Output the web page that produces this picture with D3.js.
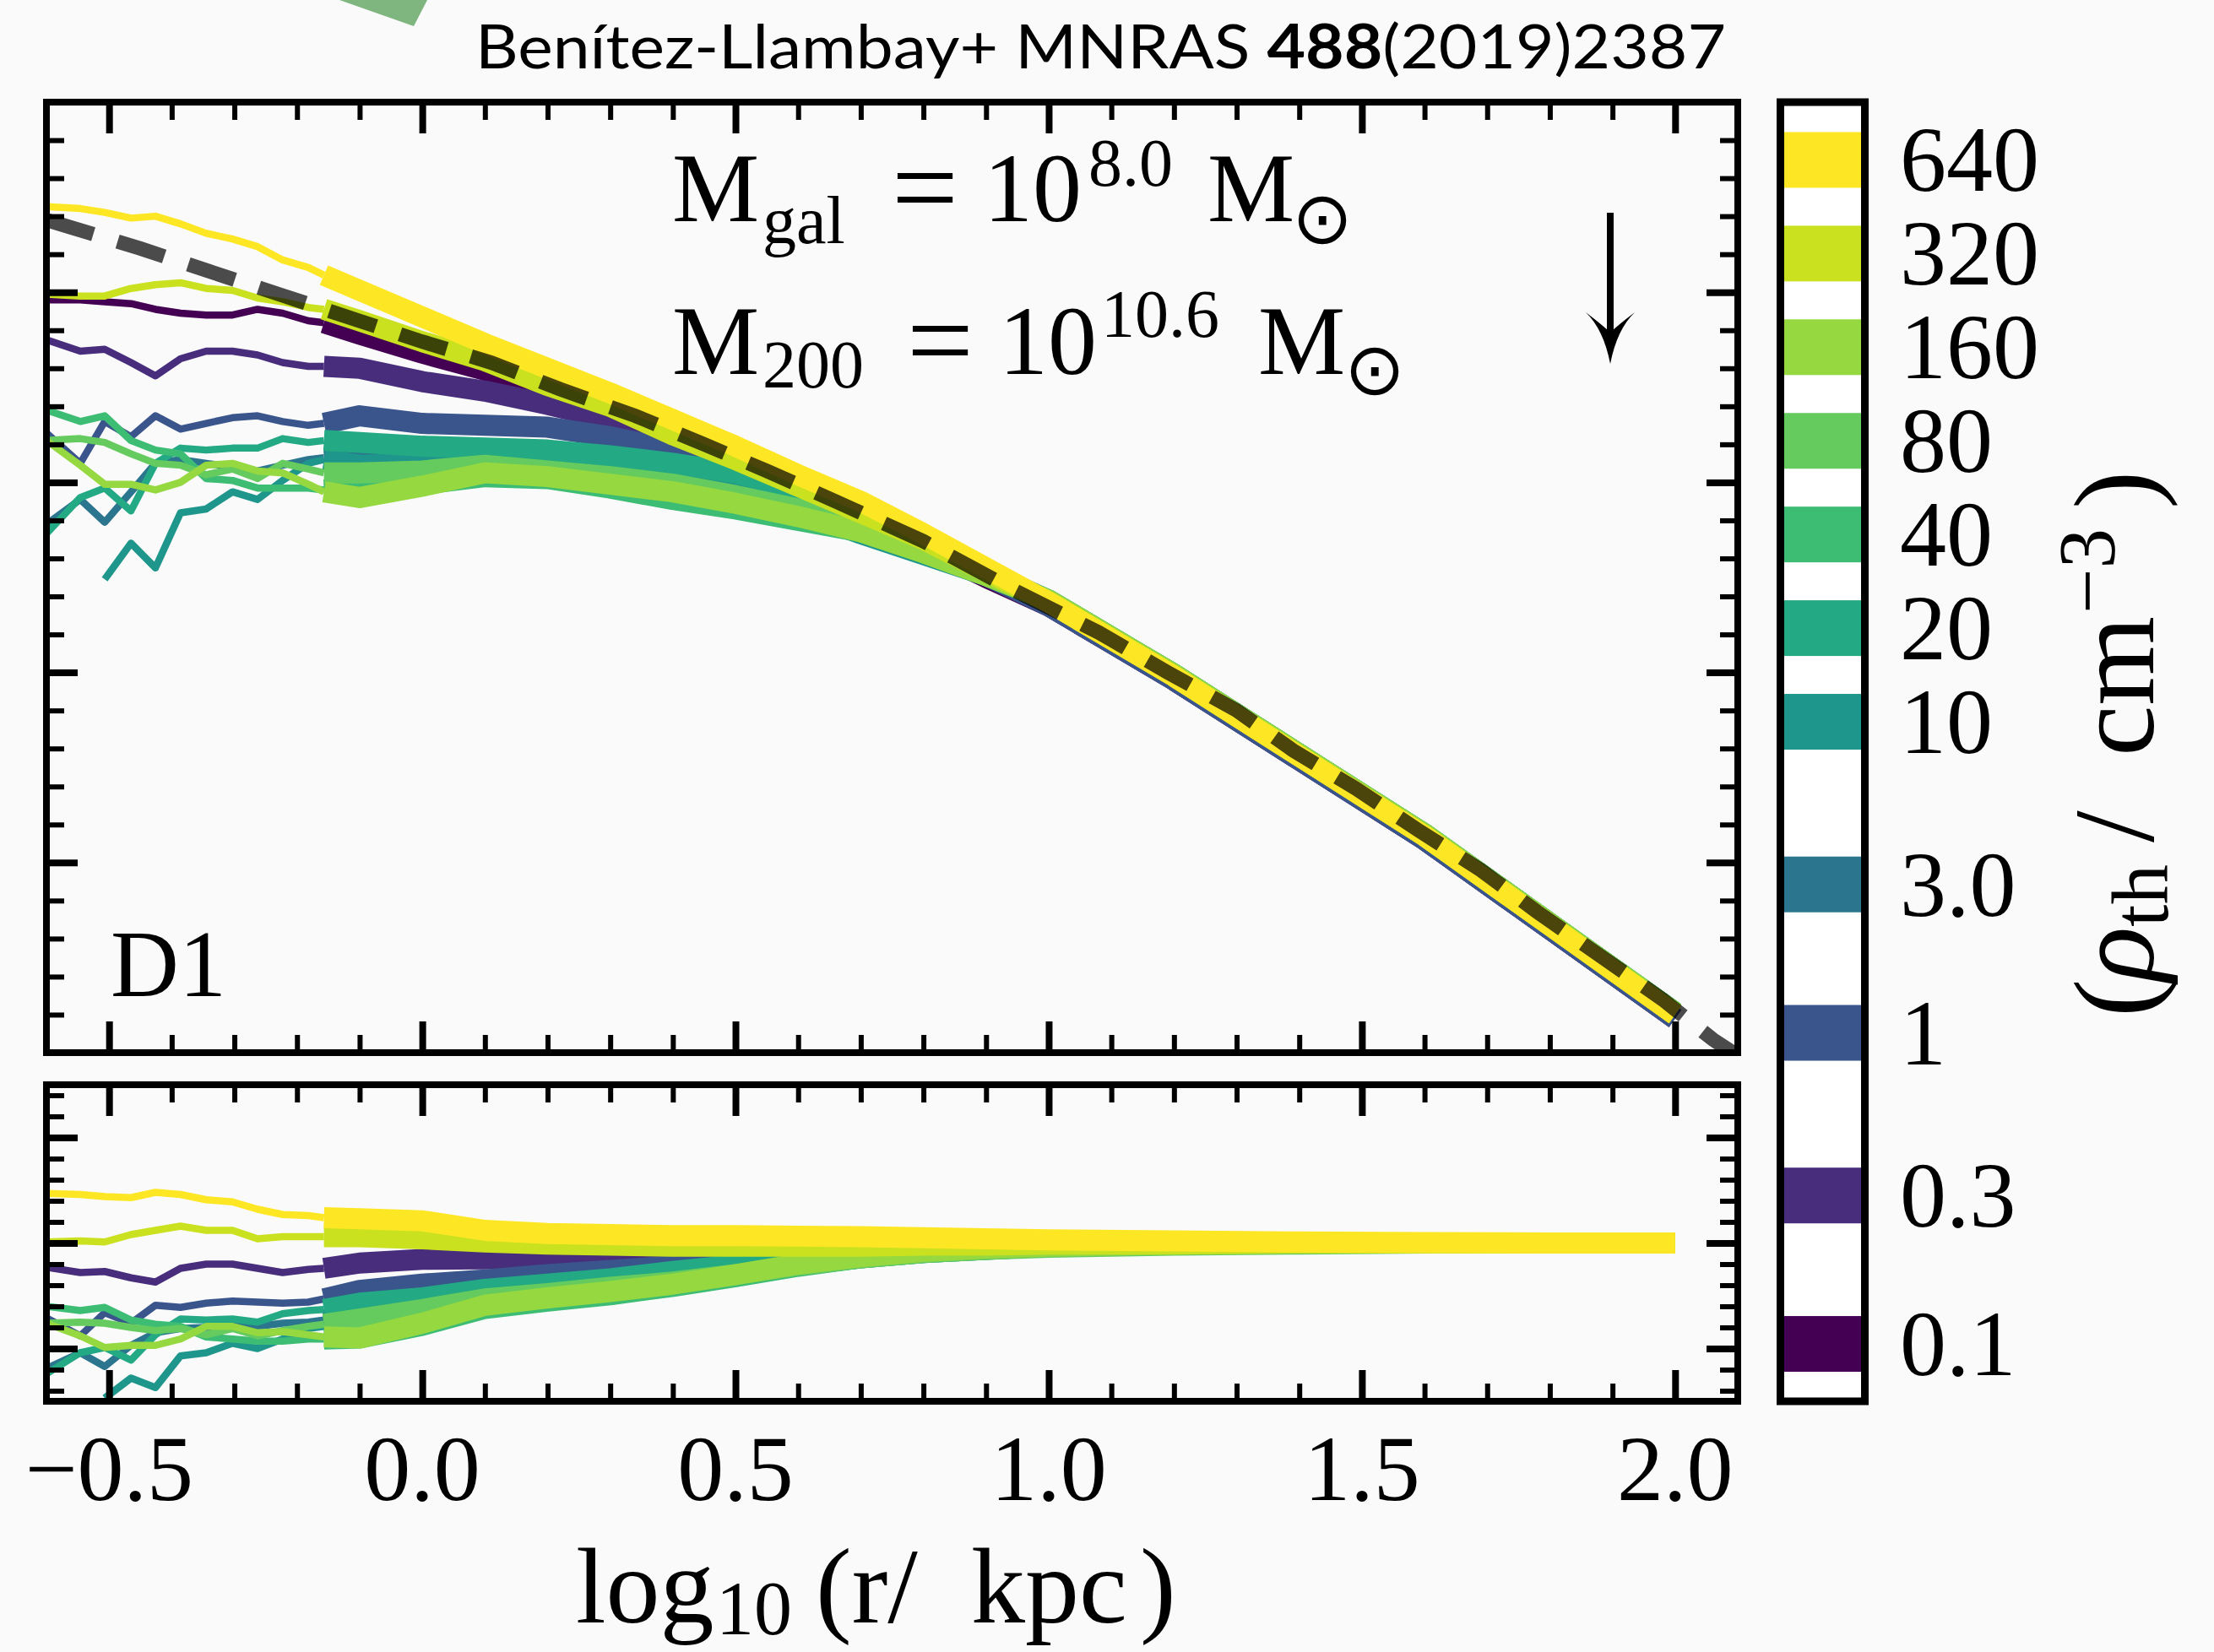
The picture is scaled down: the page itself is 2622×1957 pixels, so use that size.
<!DOCTYPE html>
<html><head><meta charset="utf-8">
<script src="https://cdn.jsdelivr.net/npm/d3@7"></script>
<style>html,body{margin:0;padding:0;background:#fafafa;}svg{display:block;}</style>
</head><body>
<svg id="chart" width="2622" height="1957"></svg>
<script>
// ---------------- DATA ----------------
const densities = [0.1, 0.3, 1, 3, 10, 20, 40, 80, 160, 320, 640];
const densityLabels = ["0.1", "0.3", "1", "3.0", "10", "20", "40", "80", "160", "320", "640"];

// x grids: log10(r/kpc)
const xThin = [-0.60, -0.546, -0.507, -0.465, -0.426, -0.386, -0.345, -0.303, -0.263, -0.223, -0.182, -0.157];
const xThick = [-0.157, -0.1, 0.0, 0.1, 0.2, 0.3, 0.4, 0.5, 0.6, 0.7, 0.8, 0.9, 1.0, 1.2, 1.4, 1.6, 1.8, 2.0];

// main panel, thin (inner) parts
const mainThin_0p1 = [-1.04, -1.04, -1.05, -1.06, -1.09, -1.11, -1.12, -1.12, -1.09, -1.11, -1.15, -1.16];
const mainThin_0p3 = [-1.25, -1.31, -1.30, -1.37, -1.44, -1.35, -1.31, -1.31, -1.33, -1.37, -1.39, -1.39];
const mainThin_1 = [-1.74, -1.90, -1.68, -1.76, -1.65, -1.72, -1.69, -1.66, -1.65, -1.68, -1.70, -1.69];
const mainThin_3 = [-2.22, -2.09, -2.21, -2.05, -1.90, -1.88, -1.90, -1.92, -1.94, -1.91, -1.88, -1.87];
const mainThin_10 = [null, null, -2.51, -2.32, -2.45, -2.16, -2.14, -2.05, -2.09, -1.99, -1.90, -1.88];
const mainThin_20 = [-2.27, -2.08, -2.03, -2.15, -1.90, -1.82, -1.83, -1.82, -1.82, -1.77, -1.79, -1.78];
const mainThin_40 = [-1.62, -1.68, -1.65, -1.78, -1.83, -1.85, -1.98, -1.99, -2.03, -2.03, -2.03, -2.04];
const mainThin_80 = [-1.78, -1.77, -1.79, -1.85, -1.90, -1.91, -1.96, -1.93, -1.98, -1.90, -1.93, -1.95];
const mainThin_160 = [-1.78, -1.91, -2.01, -2.01, -2.04, -2.00, -1.91, -1.90, -1.94, -1.95, -2.01, -2.05];
const mainThin_320 = [-1.01, -1.02, -1.02, -0.98, -0.96, -0.95, -0.98, -0.99, -1.03, -1.05, -1.08, -1.09];
const mainThin_640 = [-0.55, -0.56, -0.58, -0.61, -0.60, -0.64, -0.69, -0.72, -0.76, -0.83, -0.87, -0.91];

// main panel, thick (resolved) parts
const mainThick_0p1 = [-1.16, -1.22, -1.32, -1.41, -1.52, -1.64, -1.78, -1.92, -2.06, -2.20, -2.34, -2.50, -2.65, -3.04, -3.46, -3.88, -4.35, -4.82];
const mainThick_0p3 = [-1.39, -1.40, -1.47, -1.52, -1.59, -1.67, -1.76, -1.88, -2.02, -2.17, -2.33, -2.49, -2.65, -3.04, -3.46, -3.88, -4.35, -4.82];
const mainThick_1 = [-1.69, -1.65, -1.69, -1.70, -1.71, -1.76, -1.83, -1.91, -2.03, -2.17, -2.33, -2.49, -2.65, -3.04, -3.46, -3.88, -4.35, -4.82];
const mainThick_3 = [-1.87, -1.86, -1.86, -1.86, -1.88, -1.92, -1.96, -2.02, -2.10, -2.18, -2.31, -2.47, -2.62, -3.01, -3.43, -3.85, -4.32, -4.79];
const mainThick_10 = [-1.88, -1.91, -1.90, -1.90, -1.92, -1.96, -2.00, -2.05, -2.15, -2.27, -2.38, -2.49, -2.62, -3.01, -3.43, -3.85, -4.32, -4.79];
const mainThick_20 = [-1.78, -1.79, -1.81, -1.82, -1.83, -1.86, -1.90, -1.95, -2.04, -2.15, -2.31, -2.48, -2.62, -3.01, -3.43, -3.85, -4.32, -4.79];
const mainThick_40 = [-2.04, -2.03, -2.01, -1.97, -1.98, -2.03, -2.09, -2.14, -2.20, -2.26, -2.37, -2.49, -2.62, -3.01, -3.43, -3.85, -4.32, -4.79];
const mainThick_80 = [-1.95, -1.95, -1.94, -1.91, -1.94, -1.97, -2.01, -2.07, -2.14, -2.20, -2.33, -2.48, -2.62, -3.01, -3.43, -3.85, -4.32, -4.79];
const mainThick_160 = [-2.05, -2.08, -2.02, -1.95, -1.97, -2.01, -2.05, -2.11, -2.18, -2.26, -2.37, -2.49, -2.62, -3.01, -3.43, -3.85, -4.32, -4.79];
const mainThick_320 = [-1.09, -1.15, -1.26, -1.36, -1.49, -1.60, -1.75, -1.88, -2.02, -2.16, -2.30, -2.47, -2.63, -3.02, -3.44, -3.86, -4.33, -4.80];
const mainThick_640 = [-0.91, -0.99, -1.13, -1.27, -1.40, -1.53, -1.67, -1.81, -1.96, -2.10, -2.27, -2.45, -2.63, -3.02, -3.44, -3.86, -4.33, -4.80];

// reference (dashed) profile
const refX = [-0.60, -0.56, -0.45, -0.34, -0.22, -0.11, 0.00, 0.11, 0.22, 0.34, 0.45, 0.55, 0.66, 0.80, 0.94, 1.08, 1.19, 1.30, 1.39, 1.49, 1.59, 1.69, 1.78, 1.88, 1.98, 2.06, 2.12];
const refY = [-0.62, -0.66, -0.77, -0.89, -1.02, -1.14, -1.26, -1.37, -1.51, -1.65, -1.80, -1.94, -2.10, -2.31, -2.56, -2.79, -3.00, -3.20, -3.41, -3.61, -3.83, -4.04, -4.26, -4.49, -4.72, -4.93, -5.06];

// ratio panel, thin parts (0.1 run not shown)
const ratioThin_0p3 = [-0.23, -0.28, -0.27, -0.33, -0.37, -0.24, -0.20, -0.20, -0.24, -0.28, -0.25, -0.24];
const ratioThin_1 = [-0.71, -0.88, -0.66, -0.76, -0.59, -0.61, -0.57, -0.55, -0.56, -0.57, -0.56, -0.53];
const ratioThin_3 = [-1.19, -1.04, -1.17, -0.97, -0.85, -0.81, -0.80, -0.79, -0.79, -0.76, -0.75, -0.73];
const ratioThin_10 = [null, null, -1.47, -1.28, -1.37, -1.07, -1.04, -0.95, -1.00, -0.91, -0.81, -0.79];
const ratioThin_20 = [-1.24, -1.04, -0.99, -1.11, -0.87, -0.72, -0.73, -0.72, -0.75, -0.67, -0.64, -0.63];
const ratioThin_40 = [-0.60, -0.64, -0.61, -0.73, -0.77, -0.79, -0.89, -0.91, -0.93, -0.93, -0.91, -0.91];
const ratioThin_80 = [-0.76, -0.75, -0.76, -0.80, -0.83, -0.81, -0.87, -0.81, -0.88, -0.83, -0.79, -0.77];
const ratioThin_160 = [-0.76, -0.88, -0.99, -0.97, -0.97, -0.91, -0.79, -0.79, -0.85, -0.84, -0.87, -0.89];
const ratioThin_320 = [0.01, 0.02, 0.01, 0.08, 0.12, 0.16, 0.12, 0.12, 0.04, 0.06, 0.06, 0.06];
const ratioThin_640 = [0.47, 0.46, 0.44, 0.43, 0.48, 0.46, 0.41, 0.39, 0.32, 0.27, 0.26, 0.24];

// ratio panel, thick parts
const ratioThick_0p3 = [-0.24, -0.19, -0.155, -0.15, -0.14, -0.13, -0.11, -0.09, -0.07, -0.05, -0.04, -0.03, -0.02, -0.01, 0.0, 0.0, 0.0, 0.0];
const ratioThick_1 = [-0.53, -0.45, -0.39, -0.35, -0.30, -0.26, -0.22, -0.15, -0.10, -0.07, -0.05, -0.035, -0.02, -0.01, 0.0, 0.0, 0.0, 0.0];
const ratioThick_3 = [-0.73, -0.66, -0.58, -0.50, -0.44, -0.38, -0.31, -0.23, -0.16, -0.11, -0.07, -0.05, -0.03, -0.01, 0.0, 0.0, 0.0, 0.0];
const ratioThick_10 = [-0.79, -0.75, -0.68, -0.60, -0.53, -0.46, -0.39, -0.31, -0.21, -0.14, -0.09, -0.06, -0.03, -0.01, 0.0, 0.0, 0.0, 0.0];
const ratioThick_20 = [-0.63, -0.57, -0.52, -0.44, -0.39, -0.34, -0.27, -0.21, -0.15, -0.10, -0.07, -0.05, -0.03, -0.01, 0.0, 0.0, 0.0, 0.0];
const ratioThick_40 = [-0.91, -0.90, -0.78, -0.62, -0.55, -0.49, -0.41, -0.32, -0.22, -0.14, -0.09, -0.06, -0.03, -0.01, 0.0, 0.0, 0.0, 0.0];
const ratioThick_80 = [-0.77, -0.72, -0.63, -0.53, -0.48, -0.42, -0.37, -0.30, -0.21, -0.14, -0.09, -0.06, -0.04, -0.02, -0.01, 0.0, 0.0, 0.0];
const ratioThick_160 = [-0.89, -0.90, -0.76, -0.59, -0.52, -0.46, -0.39, -0.30, -0.20, -0.13, -0.08, -0.05, -0.03, -0.01, 0.0, 0.0, 0.0, 0.0];
const ratioThick_320 = [0.06, 0.06, 0.04, 0.01, -0.01, -0.02, -0.03, -0.03, -0.03, -0.03, -0.02, -0.02, -0.01, -0.01, 0.0, 0.0, 0.0, 0.0];
const ratioThick_640 = [0.24, 0.23, 0.21, 0.12, 0.09, 0.08, 0.07, 0.07, 0.065, 0.06, 0.05, 0.04, 0.03, 0.02, 0.01, 0.005, 0.0, 0.0];

// ticks
const xMajorTicks = [-0.5, 0, 0.5, 1, 1.5, 2];
const xTickLabels = ["\u22120.5", "0.0", "0.5", "1.0", "1.5", "2.0"];
const yMainMajorTicks = [-4, -3, -2, -1];
const yRatioMajorTicks = [-1, 0, 1];

// ---------------- SERIES TABLE ----------------
const mainThinAll = [mainThin_0p1, mainThin_0p3, mainThin_1, mainThin_3, mainThin_10, mainThin_20, mainThin_40, mainThin_80, mainThin_160, mainThin_320, mainThin_640];
const mainThickAll = [mainThick_0p1, mainThick_0p3, mainThick_1, mainThick_3, mainThick_10, mainThick_20, mainThick_40, mainThick_80, mainThick_160, mainThick_320, mainThick_640];
const ratioThinAll = [null, ratioThin_0p3, ratioThin_1, ratioThin_3, ratioThin_10, ratioThin_20, ratioThin_40, ratioThin_80, ratioThin_160, ratioThin_320, ratioThin_640];
const ratioThickAll = [null, ratioThick_0p3, ratioThick_1, ratioThick_3, ratioThick_10, ratioThick_20, ratioThick_40, ratioThick_80, ratioThick_160, ratioThick_320, ratioThick_640];

// ---------------- LAYOUT ----------------
const W = 2622, H = 1957;
const L = 55, R = 2058, T1 = 121, B1 = 1247, T2 = 1285, B2 = 1660;
const CBL = 2108.5, CBR = 2208.5;
const SERIF = "'Liberation Serif','DejaVu Serif',serif";

const x = d3.scaleLinear().domain([-0.6, 2.1]).range([L, R]);
const yMain = d3.scaleLinear().domain([-5, 0]).range([B1, T1]);
const yRatio = d3.scaleLinear().domain([-1.5, 1.5]).range([B2, T2]);
const color = d3.scaleSequentialLog(d3.interpolateViridis).domain([0.1, 640]);
const cb = d3.scaleLog().domain([0.0654, 981.5]).range([B2, T1]);

const svg = d3.select("#chart");
svg.append("rect").attr("width", W).attr("height", H).attr("fill", "#fafafa");

// decorative green fragment at top-left (part of cropped logo)
svg.append("path").attr("d", "M402,0 L506,0 L490,31 Z").attr("fill", "#7fb57f");

const defs = svg.append("defs");
defs.append("clipPath").attr("id", "clipMain").append("rect").attr("x", L).attr("y", T1).attr("width", R - L).attr("height", B1 - T1);
defs.append("clipPath").attr("id", "clipRatio").append("rect").attr("x", L).attr("y", T2).attr("width", R - L).attr("height", B2 - T2);

const THIN = 8.5, THICK = 25;

function drawSeries(g, ys, xs, vals, c, w) {
  const pts = xs.map((xv, i) => [xv, vals[i]]);
  const line = d3.line().defined(d => d[1] !== null).x(d => x(d[0])).y(d => ys(d[1]));
  g.append("path").attr("d", line(pts)).attr("fill", "none").attr("stroke", c)
    .attr("stroke-width", w).attr("stroke-linejoin", "round").attr("stroke-linecap", "butt");
}

const gMain = svg.append("g").attr("clip-path", "url(#clipMain)");
const gRatio = svg.append("g").attr("clip-path", "url(#clipRatio)");

densities.forEach((d, i) => {
  const c = color(d);
  drawSeries(gMain, yMain, xThin, mainThinAll[i], c, THIN);
  drawSeries(gMain, yMain, xThick, mainThickAll[i], c, THICK);
  if (ratioThinAll[i]) {
    drawSeries(gRatio, yRatio, xThin, ratioThinAll[i], c, THIN);
    drawSeries(gRatio, yRatio, xThick, ratioThickAll[i], c, THICK);
  }
});

// dashed reference profile
gMain.append("path")
  .attr("d", d3.line().x((d, i) => x(refX[i])).y((d, i) => yMain(refY[i]))(refX))
  .attr("fill", "none").attr("stroke", "#000").attr("stroke-opacity", 0.7)
  .attr("stroke-width", 17).attr("stroke-dasharray", "58,30").attr("stroke-linecap", "butt");

// ---------------- AXES / TICKS ----------------
function range01(a, b, step) {
  const out = [];
  for (let v = a; v <= b + 1e-9; v += step) out.push(Math.round(v * 10) / 10);
  return out;
}
const xMinorTicks = range01(-0.5, 2.0, 0.1).filter(v => !xMajorTicks.some(m => Math.abs(m - v) < 1e-6));
const yMainMinorTicks = range01(-4.8, -0.2, 0.2).filter(v => Math.abs(v - Math.round(v)) > 1e-6);
const yRatioMinorTicks = range01(-1.4, 1.4, 0.2).filter(v => Math.abs(v - Math.round(v)) > 1e-6);

function tickAxis(gen, tr, vals, len, w) {
  const g = svg.append("g").attr("transform", tr);
  g.call(gen.tickValues(vals).tickSize(-len).tickFormat(""));
  g.select(".domain").remove();
  g.selectAll(".tick line").attr("stroke", "#000").attr("stroke-width", w);
  return g;
}
const MAJ = 37, MIN = 21, MAJW = 8, MINW = 6;
[[yMain, T1, B1, yMainMajorTicks, yMainMinorTicks], [yRatio, T2, B2, yRatioMajorTicks, yRatioMinorTicks]].forEach(([ys, t, b, maj, mn]) => {
  tickAxis(d3.axisBottom(x), `translate(0,${b})`, xMajorTicks, MAJ, MAJW);
  tickAxis(d3.axisBottom(x), `translate(0,${b})`, xMinorTicks, MIN, MINW);
  tickAxis(d3.axisTop(x), `translate(0,${t})`, xMajorTicks, MAJ, MAJW);
  tickAxis(d3.axisTop(x), `translate(0,${t})`, xMinorTicks, MIN, MINW);
  tickAxis(d3.axisLeft(ys), `translate(${L},0)`, maj, MAJ, MAJW);
  tickAxis(d3.axisLeft(ys), `translate(${L},0)`, mn, MIN, MINW);
  tickAxis(d3.axisRight(ys), `translate(${R},0)`, maj, MAJ, MAJW);
  tickAxis(d3.axisRight(ys), `translate(${R},0)`, mn, MIN, MINW);
  svg.append("rect").attr("x", L).attr("y", t).attr("width", R - L).attr("height", b - t)
    .attr("fill", "none").attr("stroke", "#000").attr("stroke-width", 8);
});

// x tick labels
svg.append("g").selectAll("text").data(xMajorTicks).join("text")
  .attr("x", d => x(d)).attr("y", 1777).attr("text-anchor", "middle")
  .attr("font-family", SERIF).attr("font-size", 110).attr("fill", "#000")
  .text((d, i) => xTickLabels[i]);

// x axis label: log10 (r/ kpc)
const xl = svg.append("text").attr("y", 1922).attr("font-family", SERIF).attr("font-size", 128).attr("fill", "#000");
xl.append("tspan").attr("x", 682).text("log");
xl.append("tspan").attr("x", 848).attr("dy", 14).attr("font-size", 90).text("10");
xl.append("tspan").attr("x", 966).attr("dy", -14).text("(r/");
xl.append("tspan").attr("x", 1150).text("kpc");
xl.append("tspan").attr("x", 1350).text(")");

// ---------------- ANNOTATIONS ----------------
function mathLine(baseY, pieces) {
  const t = svg.append("text").attr("y", baseY).attr("font-family", SERIF).attr("font-size", 116).attr("fill", "#000");
  let cur = 0;
  pieces.forEach(p => {
    const ts = t.append("tspan").attr("x", p.x).attr("dy", p.dy - cur).text(p.t);
    if (p.size) ts.attr("font-size", p.size);
    if (p.font) ts.attr("font-family", p.font);
    cur = p.dy;
  });
}
mathLine(262, [
  { t: "M", x: 796, dy: 0 },
  { t: "gal", x: 903, dy: 26, size: 80 },
  { t: "=", x: 1056, dy: 7, size: 140 },
  { t: "10", x: 1165, dy: 0 },
  { t: "8.0", x: 1289, dy: -42, size: 80 },
  { t: "M", x: 1430, dy: 0 },
  { t: "\u2299", x: 1530, dy: 26, size: 86, font: "'DejaVu Sans',sans-serif" }
]);
mathLine(443, [
  { t: "M", x: 796, dy: 0 },
  { t: "200", x: 903, dy: 16, size: 80 },
  { t: "=", x: 1074, dy: 7, size: 140 },
  { t: "10", x: 1183, dy: 0 },
  { t: "10.6", x: 1304, dy: -44, size: 80 },
  { t: "M", x: 1490, dy: 0 },
  { t: "\u2299", x: 1592, dy: 24, size: 86, font: "'DejaVu Sans',sans-serif" }
]);

svg.append("text").attr("x", 131).attr("y", 1180).attr("font-family", SERIF).attr("font-size", 112).attr("fill", "#000").text("D1");

// downward arrow
svg.append("line").attr("x1", 1907).attr("y1", 252).attr("x2", 1907).attr("y2", 400).attr("stroke", "#000").attr("stroke-width", 8);
svg.append("path").attr("d", "M1878,370 Q1899,390 1907,431 Q1915,390 1936,370 Q1915,386 1907,394 Q1899,386 1878,370 Z").attr("fill", "#000");

// citation
const cit = svg.append("text").attr("x", 563).attr("y", 81).attr("font-family", "Lato,'Open Sans',sans-serif")
  .attr("font-size", 72).attr("fill", "#000").attr("textLength", 1481).attr("lengthAdjust", "spacingAndGlyphs");
cit.append("tspan").text("Benítez-Llambay+ MNRAS ");
cit.append("tspan").attr("font-weight", "bold").text("488");
cit.append("tspan").text("(2019)2387");

// ---------------- COLORBAR ----------------
svg.append("rect").attr("x", CBL).attr("y", T1).attr("width", CBR - CBL).attr("height", B2 - T1).attr("fill", "#ffffff");
svg.append("g").selectAll("rect").data(densities).join("rect")
  .attr("x", CBL + 4.5).attr("width", CBR - CBL - 9)
  .attr("y", d => cb(d) - 33).attr("height", 66).attr("fill", d => color(d));
svg.append("rect").attr("x", CBL).attr("y", T1).attr("width", CBR - CBL).attr("height", B2 - T1)
  .attr("fill", "none").attr("stroke", "#000").attr("stroke-width", 9);
svg.append("g").selectAll("text").data(densities).join("text")
  .attr("x", 2250).attr("y", d => cb(d) + 37).attr("font-family", SERIF).attr("font-size", 110).attr("fill", "#000")
  .text((d, i) => densityLabels[i]);

// colorbar label (rho_th / cm^-3), rotated
const cl = svg.append("text").attr("transform", "translate(2550,1205) rotate(-90)")
  .attr("font-family", SERIF).attr("font-size", 136).attr("fill", "#000");
cl.append("tspan").attr("x", 0).text("(");
cl.append("tspan").attr("x", 42).attr("font-style", "italic").text("\u03C1");
cl.append("tspan").attr("x", 107).attr("dy", 17).attr("font-size", 95).text("th");
cl.append("tspan").attr("x", 207).attr("dy", -17).text("/");
cl.append("tspan").attr("x", 309).text("cm");
cl.append("tspan").attr("x", 478).attr("dy", -46).attr("font-size", 95).text("\u22123");
cl.append("tspan").attr("x", 602).attr("dy", 46).text(")");
</script>
</body></html>
